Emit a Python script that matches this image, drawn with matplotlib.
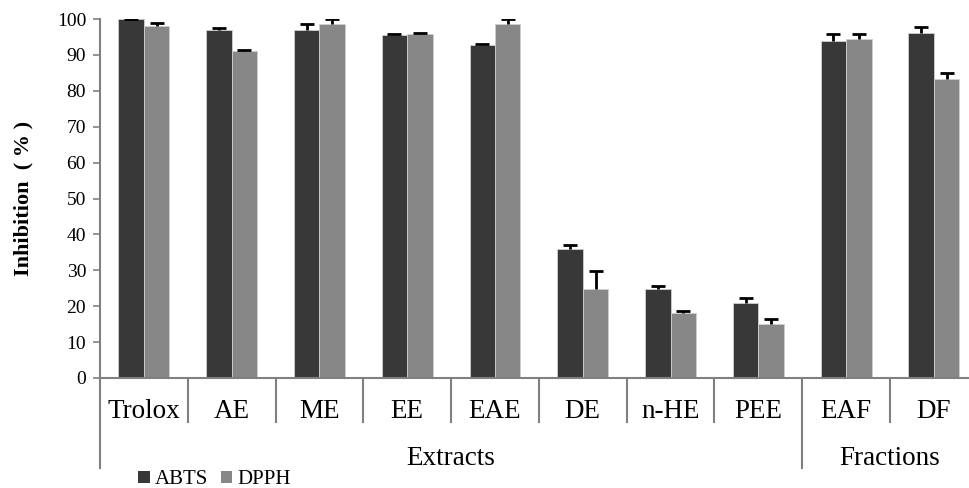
import matplotlib
matplotlib.use("Agg")
import matplotlib.pyplot as plt
import numpy as np
from matplotlib.lines import Line2D
from matplotlib.patches import Patch

categories = ["Trolox", "AE", "ME", "EE", "EAE", "DE", "n-HE", "PEE", "EAF", "DF"]
groups = ["Extracts", "Fractions"]
group_sizes = [8, 2]
abts = [100.0, 97.0, 97.0, 95.5, 92.7, 35.9, 24.7, 20.8, 93.8, 96.0]
abts_err = [0.1, 0.4, 1.5, 0.2, 0.2, 1.1, 0.8, 1.5, 2.0, 1.9]
dpph = [98.0, 91.1, 98.6, 95.9, 98.6, 24.7, 18.1, 15.0, 94.3, 83.4]
dpph_err = [1.0, 0.3, 1.5, 0.1, 1.5, 5.2, 0.6, 1.4, 1.5, 1.6]
yticks = [0, 10, 20, 30, 40, 50, 60, 70, 80, 90, 100]

plt.rcParams['font.family'] = ['Liberation Serif', 'DejaVu Serif']

W, H = 969, 488
fig = plt.figure(figsize=(W / 100, H / 100), dpi=100)
ax = fig.add_axes([100 / W, 110 / H, (W - 100) / W, 359 / H])

x = np.arange(len(categories))
bw = 0.29
c1, c2 = "#383838", "#878787"
ax.bar(x - bw / 2, abts, bw, color=c1, edgecolor="#cfcfcf", linewidth=0.6, zorder=2)
ax.bar(x + bw / 2, dpph, bw, color=c2, edgecolor="#cfcfcf", linewidth=0.6, zorder=2)
for xs, vals, errs in [(x - bw / 2, abts, abts_err), (x + bw / 2, dpph, dpph_err)]:
    eb = ax.errorbar(xs, vals, yerr=[np.zeros(len(vals)), errs], fmt="none",
                     ecolor="black", elinewidth=2, capsize=4.7, capthick=2, zorder=3)
    # keep only the upper caps (one-sided error bars)
    eb[1][0].set_visible(False)

ax.set_xlim(-0.5, 9.4)
ax.set_ylim(0, 100)
ax.set_yticks(yticks)
ax.tick_params(axis="y", labelsize=14, length=5, color="#808080", width=1.2, pad=5)
for s in ["top", "right"]:
    ax.spines[s].set_visible(False)
for s in ["left", "bottom"]:
    ax.spines[s].set_color("#808080")
    ax.spines[s].set_linewidth(1.5)
ax.set_xticks([])
ax.set_ylabel("Inhibition  ( % )", fontsize=16, fontweight="bold")
ax.yaxis.set_label_coords(-0.076, 0.5)

trans = ax.get_xaxis_transform()
# category labels
for xi, lab in zip(x, categories):
    ax.text(xi, -0.111, lab, transform=trans, ha="center", va="baseline", fontsize=19.5)
# separators
starts = np.cumsum([0] + group_sizes)
group_bounds = set(starts[:-1] - 0.5)
for b in np.arange(-0.5, len(categories) - 0.5, 1.0):
    ylow = -0.25 if b in group_bounds else -0.123
    ax.add_line(Line2D([b, b], [0, ylow], transform=trans, color="#808080",
                       linewidth=1.5, clip_on=False))
# group labels
for g, s0, n in zip(groups, starts[:-1], group_sizes):
    ax.text(s0 + (n - 1) / 2, -0.242, g, transform=trans, ha="center", va="baseline", fontsize=19.5)

handles = [Patch(facecolor=c1, edgecolor="none"), Patch(facecolor=c2, edgecolor="none")]
fig.legend(handles, ["ABTS", "DPPH"], loc="center left", bbox_to_anchor=(128 / W, 1 - 480 / H),
           ncol=2, frameon=False, fontsize=15, handlelength=0.55, handleheight=0.55,
           handletextpad=0.25, columnspacing=0.6, borderpad=0)

fig.savefig("out.png", dpi=100)
